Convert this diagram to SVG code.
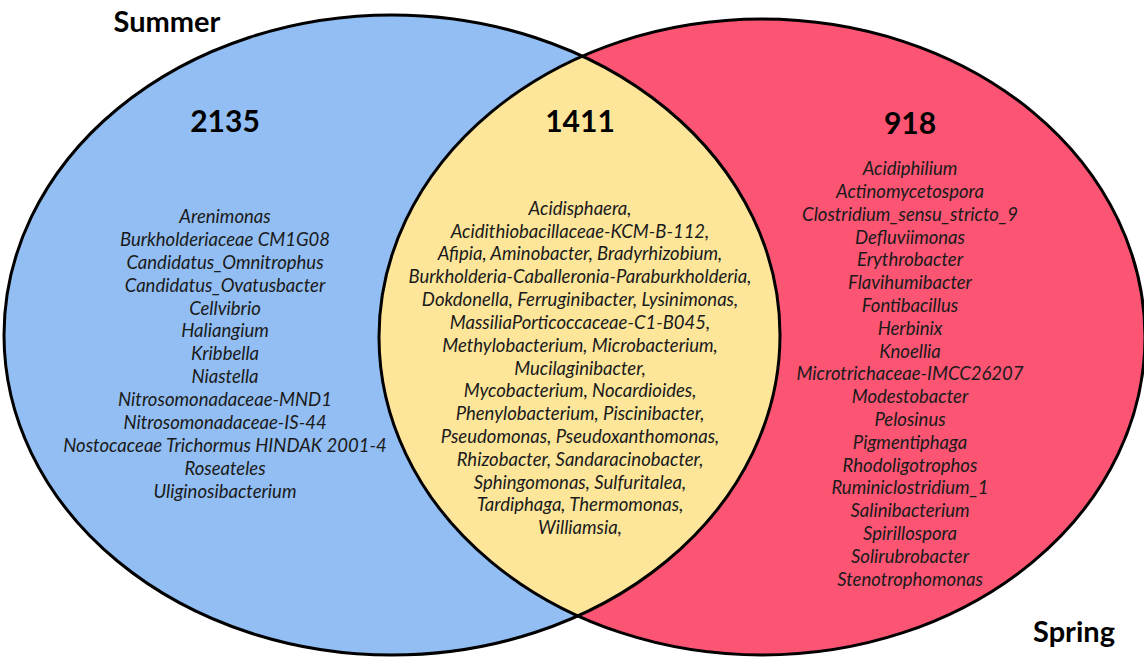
<svg xmlns="http://www.w3.org/2000/svg" width="1144" height="658" viewBox="0 0 1144 658">
<style>
.lst{font-family:Lato,"Liberation Sans",sans-serif;font-style:italic;font-size:18.5px;fill:#1a1a1a;text-anchor:middle}
.num{font-family:Lato,"Liberation Sans",sans-serif;font-weight:bold;font-size:30px;fill:#000;text-anchor:middle}
.ttl{font-family:Lato,"Liberation Sans",sans-serif;font-weight:bold;font-size:29px;fill:#000;text-anchor:middle}
.edge{fill:none;stroke:#000;stroke-width:3}
</style>
<defs>
<clipPath id="clipBlue"><ellipse cx="392" cy="335" rx="388" ry="320"/></clipPath>
</defs>
<rect width="1144" height="658" fill="#fff"/>
<g id="summer-set">
<ellipse cx="392" cy="335" rx="388" ry="320" fill="#92BEF3"/>
</g>
<g id="spring-set">
<ellipse cx="762" cy="337" rx="383" ry="318" fill="#FB5573"/>
</g>
<g id="overlap-set">
<ellipse cx="762" cy="337" rx="383" ry="318" fill="#FDE69A" clip-path="url(#clipBlue)"/>
</g>
<g id="outlines">
<ellipse class="edge" cx="392" cy="335" rx="388" ry="320"/>
<ellipse class="edge" cx="762" cy="337" rx="383" ry="318"/>
</g>
<g id="summer">
<text class="ttl" x="167" y="32">Summer</text>
<text class="num" x="225" y="132">2135</text>
<text class="lst" x="225" y="223">Arenimonas</text>
<text class="lst" x="225" y="246">Burkholderiaceae CM1G08</text>
<text class="lst" x="225" y="269">Candidatus_Omnitrophus</text>
<text class="lst" x="225" y="292">Candidatus_Ovatusbacter</text>
<text class="lst" x="225" y="315">Cellvibrio</text>
<text class="lst" x="225" y="337">Haliangium</text>
<text class="lst" x="225" y="360">Kribbella</text>
<text class="lst" x="225" y="383">Niastella</text>
<text class="lst" x="225" y="406">Nitrosomonadaceae-MND1</text>
<text class="lst" x="225" y="429">Nitrosomonadaceae-IS-44</text>
<text class="lst" x="225" y="452">Nostocaceae Trichormus HINDAK 2001-4</text>
<text class="lst" x="225" y="475">Roseateles</text>
<text class="lst" x="225" y="498">Uliginosibacterium</text>
</g>
<g id="overlap">
<text class="num" x="580" y="132">1411</text>
<text class="lst" x="580" y="215">Acidisphaera,</text>
<text class="lst" x="580" y="238">Acidithiobacillaceae-KCM-B-112,</text>
<text class="lst" x="580" y="260">Afipia, Aminobacter, Bradyrhizobium,</text>
<text class="lst" x="580" y="283">Burkholderia-Caballeronia-Paraburkholderia,</text>
<text class="lst" x="580" y="306">Dokdonella, Ferruginibacter, Lysinimonas,</text>
<text class="lst" x="580" y="329">MassiliaPorticoccaceae-C1-B045,</text>
<text class="lst" x="580" y="352">Methylobacterium, Microbacterium,</text>
<text class="lst" x="580" y="375">Mucilaginibacter,</text>
<text class="lst" x="580" y="397">Mycobacterium, Nocardioides,</text>
<text class="lst" x="580" y="420">Phenylobacterium, Piscinibacter,</text>
<text class="lst" x="580" y="443">Pseudomonas, Pseudoxanthomonas,</text>
<text class="lst" x="580" y="466">Rhizobacter, Sandaracinobacter,</text>
<text class="lst" x="580" y="489">Sphingomonas, Sulfuritalea,</text>
<text class="lst" x="580" y="511">Tardiphaga, Thermomonas,</text>
<text class="lst" x="580" y="534">Williamsia,</text>
</g>
<g id="spring">
<text class="ttl" x="1074" y="642">Spring</text>
<text class="num" x="910" y="134">918</text>
<text class="lst" x="910" y="175">Acidiphilium</text>
<text class="lst" x="910" y="198">Actinomycetospora</text>
<text class="lst" x="910" y="221">Clostridium_sensu_stricto_9</text>
<text class="lst" x="910" y="244">Defluviimonas</text>
<text class="lst" x="910" y="266">Erythrobacter</text>
<text class="lst" x="910" y="289">Flavihumibacter</text>
<text class="lst" x="910" y="312">Fontibacillus</text>
<text class="lst" x="910" y="335">Herbinix</text>
<text class="lst" x="910" y="358">Knoellia</text>
<text class="lst" x="910" y="380">Microtrichaceae-IMCC26207</text>
<text class="lst" x="910" y="403">Modestobacter</text>
<text class="lst" x="910" y="426">Pelosinus</text>
<text class="lst" x="910" y="449">Pigmentiphaga</text>
<text class="lst" x="910" y="472">Rhodoligotrophos</text>
<text class="lst" x="910" y="494">Ruminiclostridium_1</text>
<text class="lst" x="910" y="517">Salinibacterium</text>
<text class="lst" x="910" y="540">Spirillospora</text>
<text class="lst" x="910" y="563">Solirubrobacter</text>
<text class="lst" x="910" y="586">Stenotrophomonas</text>
</g>
</svg>
